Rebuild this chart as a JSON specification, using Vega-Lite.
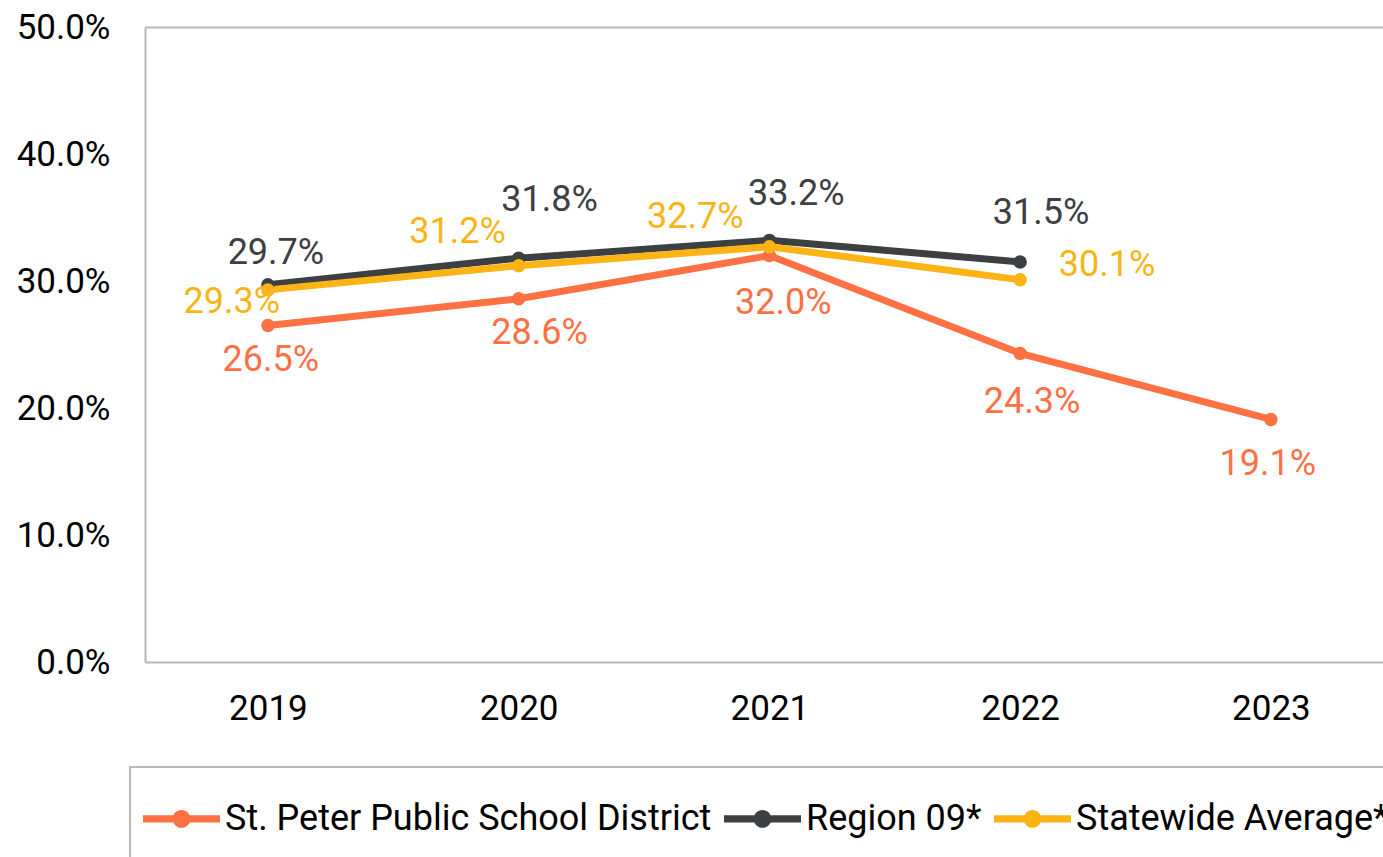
{
  "$schema": "https://vega.github.io/schema/vega-lite/v6.json",
  "width": 1238,
  "height": 635,
  "autosize": {"type": "none"},
  "padding": {"left": 145, "top": 27, "right": 0, "bottom": 195},
  "background": "white",
  "config": {"view": {"stroke": null}, "font": "Roboto"},
  "data": {"values": [
    {"s": "St. Peter Public School District", "year": "2019", "v": 0.265},
    {"s": "St. Peter Public School District", "year": "2020", "v": 0.286},
    {"s": "St. Peter Public School District", "year": "2021", "v": 0.320},
    {"s": "St. Peter Public School District", "year": "2022", "v": 0.243},
    {"s": "St. Peter Public School District", "year": "2023", "v": 0.191},
    {"s": "Region 09*", "year": "2019", "v": 0.297},
    {"s": "Region 09*", "year": "2020", "v": 0.318},
    {"s": "Region 09*", "year": "2021", "v": 0.332},
    {"s": "Region 09*", "year": "2022", "v": 0.315},
    {"s": "Statewide Average*", "year": "2019", "v": 0.293},
    {"s": "Statewide Average*", "year": "2020", "v": 0.312},
    {"s": "Statewide Average*", "year": "2021", "v": 0.327},
    {"s": "Statewide Average*", "year": "2022", "v": 0.301}
  ]},
  "encoding": {
    "x": {"field": "year", "type": "ordinal", "scale": {"type": "point", "padding": 0.4686, "align": 0.523}, "axis": null},
    "y": {"field": "v", "type": "quantitative", "scale": {"domain": [0, 0.5], "nice": false, "zero": true},
      "axis": {"values": [0, 0.1, 0.2, 0.3, 0.4, 0.5], "format": ".1%", "title": null, "grid": false, "ticks": false,
        "labelFontSize": 35, "labelColor": "#000000", "labelPadding": 35, "labelFlush": false, "labelOverlap": false,
        "domainColor": "#b7b7b7", "domainWidth": 2}},
    "color": {"field": "s", "type": "nominal",
      "scale": {"domain": ["St. Peter Public School District", "Region 09*", "Statewide Average*"], "range": ["#FF7043", "#3C4043", "#FCB415"]},
      "legend": {"title": null, "orient": "none", "legendX": -15, "legendY": 740, "direction": "horizontal",
        "symbolType": "M-1,-0.093H1V0.093H-1Z M-0.23,0A0.23,0.23 0 1,1 0.23,0A0.23,0.23 0 1,1 -0.23,0Z M0,-0.7M0,0.98",
        "symbolSize": 5929, "symbolStrokeWidth": 0, "labelFontSize": 36, "labelColor": "#000000", "labelLimit": 1000,
        "labelOffset": 5, "columnPadding": 12, "padding": 13, "strokeColor": "#b7b7b7",
        "encode": {"symbols": {"update": {"fill": {"field": "value", "scale": "color"}, "stroke": {"value": "transparent"}, "opacity": {"value": 1}}},
                   "legend": {"update": {"strokeWidth": {"value": 2}}}}}}
  },
  "resolve": {"axis": {"x": "independent"}},
  "layer": [
    {"mark": {"type": "line", "strokeWidth": 7},
     "encoding": {"x": {"field": "year", "type": "ordinal", "scale": {"type": "point", "padding": 0.4686, "align": 0.523},
       "axis": {"orient": "top", "labels": false, "ticks": false, "title": null, "domainColor": "#b7b7b7", "domainWidth": 2}}}},
    {"mark": {"type": "point", "filled": true, "size": 180, "opacity": 1},
     "encoding": {"x": {"field": "year", "type": "ordinal", "scale": {"type": "point", "padding": 0.4686, "align": 0.523},
       "axis": {"orient": "bottom", "title": null, "ticks": false, "labelAngle": 0, "labelFontSize": 35, "labelColor": "#000000", "labelPadding": 29, "domainColor": "#b7b7b7", "domainWidth": 2}}}},
    {"transform": [{"filter": "datum.s == 'St. Peter Public School District' && datum.year == '2019'"}], "mark": {"type": "text", "fontSize": 36, "baseline": "middle", "dx": 3, "dy": 35}, "encoding": {"text": {"field": "v", "format": ".1%"}}},
    {"transform": [{"filter": "datum.s == 'St. Peter Public School District' && datum.year == '2020'"}], "mark": {"type": "text", "fontSize": 36, "baseline": "middle", "dx": 21, "dy": 34}, "encoding": {"text": {"field": "v", "format": ".1%"}}},
    {"transform": [{"filter": "datum.s == 'St. Peter Public School District' && datum.year == '2021'"}], "mark": {"type": "text", "fontSize": 36, "baseline": "middle", "dx": 14, "dy": 47}, "encoding": {"text": {"field": "v", "format": ".1%"}}},
    {"transform": [{"filter": "datum.s == 'St. Peter Public School District' && datum.year == '2022'"}], "mark": {"type": "text", "fontSize": 36, "baseline": "middle", "dx": 12, "dy": 49}, "encoding": {"text": {"field": "v", "format": ".1%"}}},
    {"transform": [{"filter": "datum.s == 'St. Peter Public School District' && datum.year == '2023'"}], "mark": {"type": "text", "fontSize": 36, "baseline": "middle", "dx": -3, "dy": 45}, "encoding": {"text": {"field": "v", "format": ".1%"}}},
    {"transform": [{"filter": "datum.s == 'Region 09*' && datum.year == '2019'"}], "mark": {"type": "text", "fontSize": 36, "baseline": "middle", "dx": 8, "dy": -32}, "encoding": {"text": {"field": "v", "format": ".1%"}}},
    {"transform": [{"filter": "datum.s == 'Region 09*' && datum.year == '2020'"}], "mark": {"type": "text", "fontSize": 36, "baseline": "middle", "dx": 31, "dy": -58}, "encoding": {"text": {"field": "v", "format": ".1%"}}},
    {"transform": [{"filter": "datum.s == 'Region 09*' && datum.year == '2021'"}], "mark": {"type": "text", "fontSize": 36, "baseline": "middle", "dx": 27, "dy": -46}, "encoding": {"text": {"field": "v", "format": ".1%"}}},
    {"transform": [{"filter": "datum.s == 'Region 09*' && datum.year == '2022'"}], "mark": {"type": "text", "fontSize": 36, "baseline": "middle", "dx": 21, "dy": -49}, "encoding": {"text": {"field": "v", "format": ".1%"}}},
    {"transform": [{"filter": "datum.s == 'Statewide Average*' && datum.year == '2019'"}], "mark": {"type": "text", "fontSize": 36, "baseline": "middle", "dx": -36, "dy": 12}, "encoding": {"text": {"field": "v", "format": ".1%"}}},
    {"transform": [{"filter": "datum.s == 'Statewide Average*' && datum.year == '2020'"}], "mark": {"type": "text", "fontSize": 36, "baseline": "middle", "dx": -61, "dy": -34}, "encoding": {"text": {"field": "v", "format": ".1%"}}},
    {"transform": [{"filter": "datum.s == 'Statewide Average*' && datum.year == '2021'"}], "mark": {"type": "text", "fontSize": 36, "baseline": "middle", "dx": -74, "dy": -30}, "encoding": {"text": {"field": "v", "format": ".1%"}}},
    {"transform": [{"filter": "datum.s == 'Statewide Average*' && datum.year == '2022'"}], "mark": {"type": "text", "fontSize": 36, "baseline": "middle", "dx": 87, "dy": -15}, "encoding": {"text": {"field": "v", "format": ".1%"}}}
  ]
}
